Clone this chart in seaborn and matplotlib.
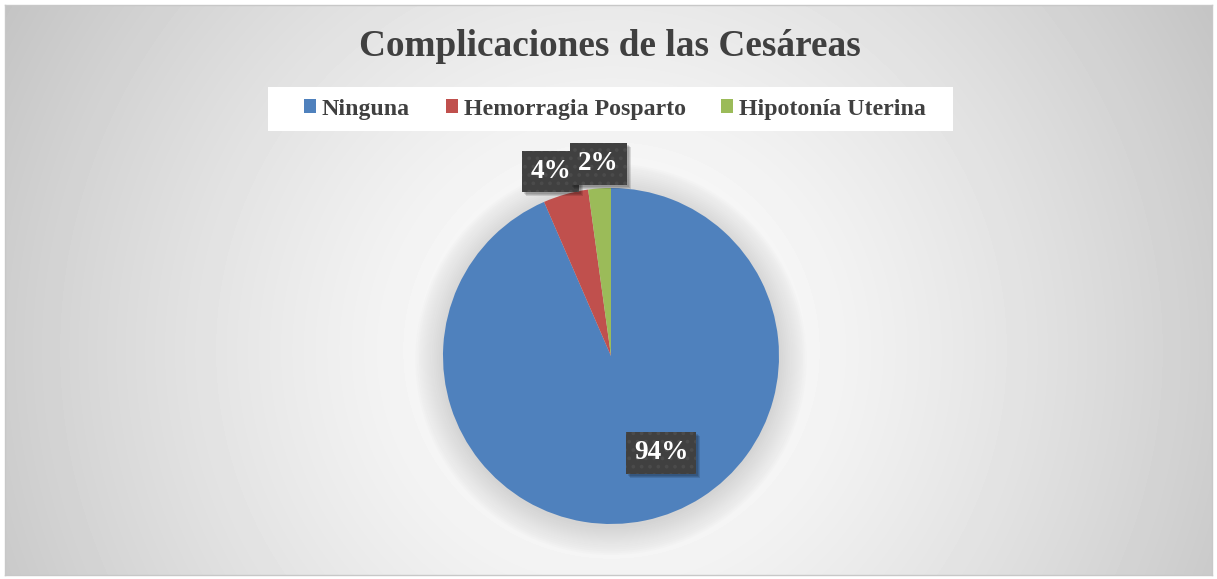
import numpy as np
import matplotlib
matplotlib.use('Agg')
import matplotlib.pyplot as plt
from matplotlib.patches import Rectangle, Circle
from matplotlib.transforms import IdentityTransform
import seaborn as sns

# Datos
categorias = ['Ninguna', 'Hemorragia Posparto', 'Hipotonía Uterina']
casos = [43, 2, 1]
etiquetas = ['94%', '4%', '2%']
colores = ['#4F81BD', '#C0504D', '#9BBB59']
titulo = 'Complicaciones de las Cesáreas'

sns.set_style('white')
plt.rcParams['font.family'] = ['Liberation Serif', 'DejaVu Serif']
plt.rcParams['hatch.linewidth'] = 1.5

W, H = 1217, 579
fig = plt.figure(figsize=(W / 100, H / 100), dpi=100)
fig.patch.set_facecolor('white')

# Fondo con degradado radial
bg = fig.add_axes([5 / W, 4 / H, 1207 / W, 570 / H])
xx, yy = np.meshgrid(np.arange(1207), np.arange(570))
r = np.sqrt((xx - 606) ** 2 + (yy - 345) ** 2) / 690
v = 1 - 0.23 * np.clip(r, 0, 1.1) ** 1.4
bg.imshow(v, cmap='gray', vmin=0, vmax=1, aspect='auto', interpolation='bilinear')
bg.set_xticks([])
bg.set_yticks([])
for s in bg.spines.values():
    s.set_color('#c8c8c8')
    s.set_linewidth(1)

# Pastel
S, R = 220, 168
ax = fig.add_axes([(611 - S) / W, (223 - S) / H, 2 * S / W, 2 * S / H])
ax.axis('off')

for k in range(16):
    ax.add_patch(Circle((0.0, -0.02), 1.0 + k * 0.011, color='#888888', alpha=0.018, lw=0, zorder=0))

palette = sns.color_palette(colores)
wedges, textos = ax.pie(casos, colors=palette, startangle=90, counterclock=False,
                        wedgeprops={'linewidth': 0})
ax.set_xlim(-S / R, S / R)
ax.set_ylim(-S / R, S / R)
ax.set_aspect('equal')

# Etiquetas de datos
pos_etiquetas = [(0.298, -0.577), (-0.36, 1.10), (-0.074, 1.143)]
textos_pct = []
for i, (lab, p) in enumerate(zip(etiquetas, pos_etiquetas)):
    t = ax.text(p[0], p[1], lab, fontsize=19.5, fontweight='bold', color='white',
                ha='center', va='center', zorder=5 + 2 * i, clip_on=False,
                bbox=dict(boxstyle='square,pad=0.3', facecolor='#404040', edgecolor='#4b4b4b',
                          linewidth=0, hatch='..'))
    textos_pct.append(t)

# Sombra de las cajas
fig.canvas.draw()
for i, t in enumerate(textos_pct):
    bb = t.get_bbox_patch().get_window_extent()
    for d in range(3):
        ax.add_patch(Rectangle((bb.x0 + 2 + d, bb.y0 - 2 - d), bb.width, bb.height,
                               transform=IdentityTransform(), facecolor='black', alpha=0.12,
                               linewidth=0, zorder=4 + 2 * i, clip_on=False))

# Título y leyenda
fig.text(610 / W, 1 - 47 / H, titulo, ha='center', va='center', fontsize=26.8,
         fontweight='bold', color='#404040')
fig.patches.append(Rectangle((268 / W, (H - 131) / H), 685 / W, 44 / H, transform=fig.transFigure,
                             facecolor='white', edgecolor='none', zorder=1))
leg = fig.legend(wedges, categorias, loc='center', bbox_to_anchor=(615 / W, 1 - 109 / H), ncol=3,
                 frameon=False, handlelength=0.5, handleheight=0.5, handletextpad=0.25,
                 columnspacing=1.5, prop={'size': 17.2, 'weight': 'bold'})
for txt in leg.get_texts():
    txt.set_color('#404040')

fig.savefig('out.png', dpi=100)
